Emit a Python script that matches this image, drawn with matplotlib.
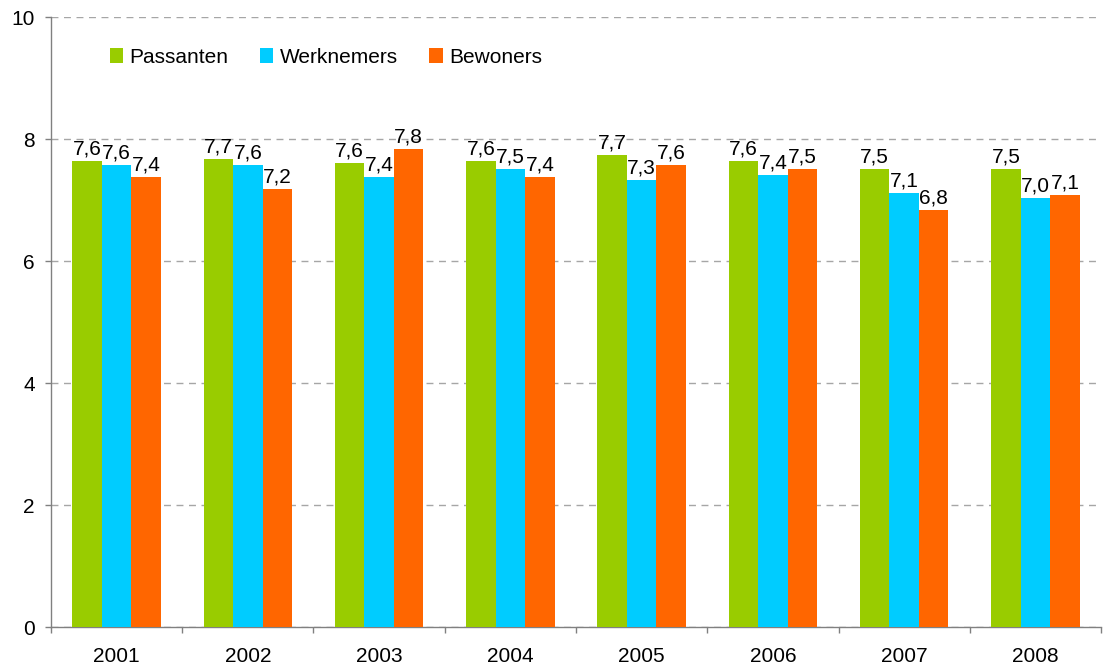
import numpy as np
import matplotlib
matplotlib.use("Agg")
import matplotlib.pyplot as plt
from matplotlib.ticker import FixedLocator

plt.rcParams['font.family'] = ['Liberation Sans', 'DejaVu Sans']

# data
years = ['2001', '2002', '2003', '2004', '2005', '2006', '2007', '2008']
passanten = [7.64, 7.68, 7.61, 7.64, 7.74, 7.64, 7.51, 7.51]
werknemers = [7.58, 7.58, 7.38, 7.51, 7.34, 7.41, 7.12, 7.04]
bewoners = [7.38, 7.18, 7.84, 7.38, 7.58, 7.51, 6.84, 7.09]
series_names = ['Passanten', 'Werknemers', 'Bewoners']
colors = ['#99CC00', '#00CCFF', '#FF6600']

fig = plt.figure(figsize=(11.03, 6.65), dpi=100)
ax = fig.add_axes([0.0462, 0.0567, 0.952, 0.9173])

x = np.arange(len(years))
width = 0.225
for i, (vals, name, col) in enumerate(zip([passanten, werknemers, bewoners], series_names, colors)):
    pos = x + (i - 1) * width
    ax.bar(pos, vals, width, color=col, label=name, zorder=3)
    for px, v in zip(pos, vals):
        ax.text(px, v + 0.04, f"{v:.1f}".replace('.', ','), ha='center', va='bottom',
                fontsize=15, color='#000000', zorder=4)

ax.set_xlim(-0.5, len(years) - 0.5)
ax.set_ylim(0, 10)
ax.set_yticks([0, 2, 4, 6, 8, 10])
ax.yaxis.grid(True, linestyle=(0, (5, 4)), color='#A6A6A6', linewidth=1)
ax.set_axisbelow(True)

ax.set_xticks(x)
ax.set_xticklabels(years)
ax.xaxis.set_minor_locator(FixedLocator(np.arange(-0.5, len(years), 1.0)))
ax.tick_params(axis='x', which='major', length=0, pad=14, labelsize=15)
ax.tick_params(axis='x', which='minor', length=4.5, width=1, color='#808080', direction='out')
ax.tick_params(axis='y', length=4.5, width=1, color='#808080', pad=7, labelsize=15)

for s in ['top', 'right']:
    ax.spines[s].set_visible(False)
for s in ['left', 'bottom']:
    ax.spines[s].set_color('#808080')
    ax.spines[s].set_linewidth(1)

ax.legend(loc='center left', bbox_to_anchor=(0.056, 0.934), ncol=3, frameon=False,
          fontsize=15, handlelength=0.65, handleheight=0.7, handletextpad=0.3,
          columnspacing=1.5, borderpad=0, borderaxespad=0)

fig.savefig('out.png', dpi=100)
